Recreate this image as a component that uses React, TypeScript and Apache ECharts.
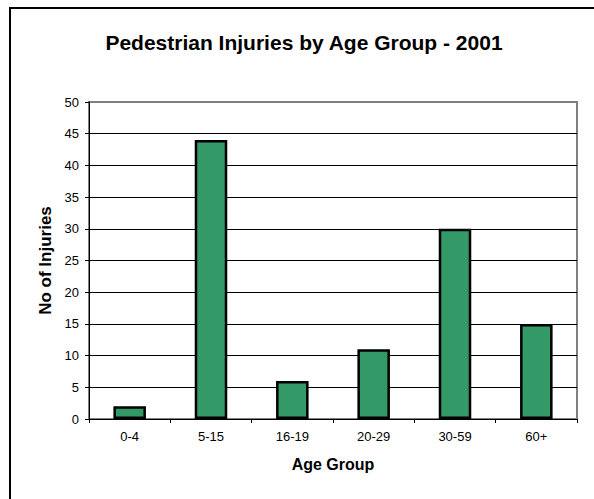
import React, { useEffect, useRef } from "react";
import * as echarts from "echarts";

const categories = ["0-4", "5-15", "16-19", "20-29", "30-59", "60+"];
const injuries = [2, 44, 6, 11, 30, 15];
const chartTitle = "Pedestrian Injuries by Age Group - 2001";
const xName = "Age Group";
const yName = "No of Injuries";

const FONT = "'Liberation Sans', Arial, Helvetica, sans-serif";

export default function App() {
  const ref = useRef<HTMLDivElement>(null);
  useEffect(() => {
    if (!ref.current) return;
    const chart = echarts.init(ref.current, null, { renderer: "svg" });
    chart.setOption({
      animation: false,
      backgroundColor: "#ffffff",
      title: {
        text: chartTitle,
        left: 299,
        top: 27,
        textAlign: "center",
        textStyle: { fontFamily: FONT, fontSize: 21, fontWeight: "bold", color: "#000" },
      },
      graphic: [
        {
          type: "rect",
          shape: { x: 10, y: 8, width: 800, height: 800 },
          style: { fill: "none", stroke: "#000", lineWidth: 2 },
          z: 100,
        },
      ],
      grid: {
        left: 89,
        right: 17,
        top: 102,
        bottom: 80,
        show: true,
        borderColor: "#808080",
        borderWidth: 2,
        backgroundColor: "#ffffff",
      },
      xAxis: {
        type: "category",
        data: categories,
        boundaryGap: true,
        name: xName,
        nameLocation: "middle",
        nameGap: 37,
        nameTextStyle: { fontFamily: FONT, fontSize: 16, fontWeight: "bold", color: "#000" },
        axisLine: { lineStyle: { color: "#000", width: 1 } },
        axisTick: { show: true, length: 4, lineStyle: { color: "#000" } },
        axisLabel: { fontFamily: FONT, fontSize: 13, color: "#000", margin: 11 },
        splitLine: { show: false },
      },
      yAxis: {
        type: "value",
        min: 0,
        max: 50,
        interval: 5,
        name: yName,
        nameLocation: "middle",
        nameGap: 28,
        nameTextStyle: { fontFamily: FONT, fontSize: 17, fontWeight: "bold", color: "#000" },
        axisLine: { show: true, lineStyle: { color: "#000", width: 1 } },
        axisTick: { show: true, length: 4, lineStyle: { color: "#000" } },
        axisLabel: { fontFamily: FONT, fontSize: 13, color: "#000", margin: 10 },
        splitLine: {
          show: true,
          lineStyle: {
            color: ["#000", "#000", "#000", "#000", "#000", "#000", "#000", "#000", "#000", "#000", "transparent"],
            width: 1,
          },
        },
      },
      series: [
        {
          type: "bar",
          data: injuries,
          barWidth: "40%",
          itemStyle: { color: "#339966", borderColor: "#000", borderWidth: 2.5 },
        },
      ],
    });
    return () => chart.dispose();
  }, []);
  return (
    <div
      ref={ref}
      style={{ position: "fixed", left: 0, top: 0, width: 594, height: 499 }}
    />
  );
}
